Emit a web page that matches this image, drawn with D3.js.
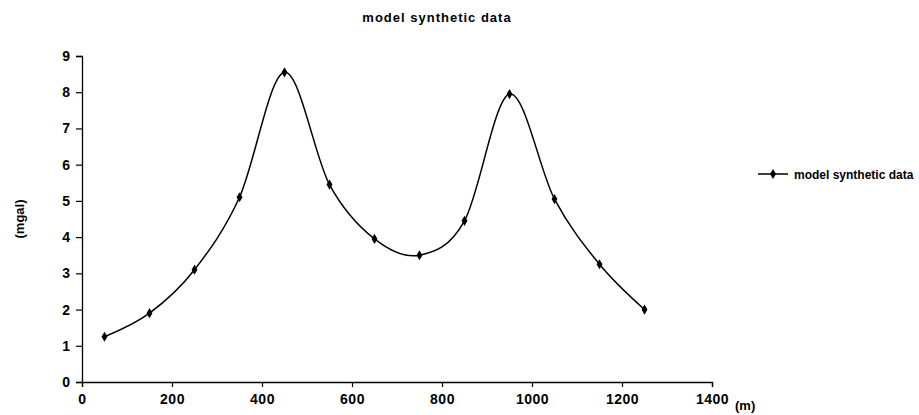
<!DOCTYPE html>
<html>
<head>
<meta charset="utf-8">
<script src="https://cdn.jsdelivr.net/npm/d3@7"></script>
<style>
  html, body { margin: 0; padding: 0; background: #fff; }
  svg text { font-family: "Liberation Sans", Arial, sans-serif; font-weight: bold; fill: #000; }
</style>
</head>
<body>
<svg id="chart" width="919" height="415"></svg>
<script>
// Gravity profile: distance along line (m) and anomaly (mgal)
const distance = [50, 150, 250, 350, 450, 550, 650, 750, 850, 950, 1050, 1150, 1250];
const anomaly  = [1.25, 1.9, 3.1, 5.1, 8.55, 5.45, 3.95, 3.5, 4.45, 7.95, 5.05, 3.25, 2.0];
const xTicks = [0, 200, 400, 600, 800, 1000, 1200, 1400];
const yTicks = [0, 1, 2, 3, 4, 5, 6, 7, 8, 9];
const titleText = "model synthetic data";
const seriesName = "model synthetic data";
const xUnit = "(m)";
const yUnit = "(mgal)";

const svg = d3.select("#chart");
const plot = { left: 82, right: 712, top: 56, bottom: 382 };

const x = d3.scaleLinear().domain([0, 1400]).range([plot.left, plot.right]);
const y = d3.scaleLinear().domain([0, 9]).range([plot.bottom, plot.top]);

// Title
svg.append("text")
  .attr("x", 437).attr("y", 22)
  .attr("text-anchor", "middle")
  .style("font-size", "13px")
  .style("letter-spacing", "1px")
  .text(titleText);

// X axis
const xAxis = svg.append("g")
  .attr("transform", `translate(0,${plot.bottom})`)
  .call(d3.axisBottom(x).tickValues(xTicks).tickSize(5).tickPadding(7).tickFormat(d3.format("d")));
xAxis.selectAll("text").style("font-size", "14px").style("letter-spacing", "0.5px");
xAxis.select(".domain").attr("stroke", "#000").attr("stroke-width", 1.3);
xAxis.selectAll(".tick line").attr("stroke", "#000").attr("stroke-width", 1.2);

// Y axis
const yAxis = svg.append("g")
  .attr("transform", `translate(${plot.left},0)`)
  .call(d3.axisLeft(y).tickValues(yTicks).tickSize(6).tickPadding(6).tickFormat(d3.format("d")));
yAxis.selectAll("text").style("font-size", "14px");
yAxis.select(".domain").attr("stroke", "#000").attr("stroke-width", 1.3);
yAxis.selectAll(".tick line").attr("stroke", "#000").attr("stroke-width", 1.2);

// Axis unit labels
svg.append("text")
  .attr("x", 735).attr("y", 410)
  .style("font-size", "13px")
  .text(xUnit);

svg.append("text")
  .attr("transform", `translate(24,${(plot.top + plot.bottom) / 2}) rotate(-90)`)
  .attr("text-anchor", "middle")
  .style("font-size", "13px")
  .text(yUnit);

// Smoothed data line
const pts = distance.map((d, i) => [d, anomaly[i]]);
const line = d3.line()
  .x(d => x(d[0]))
  .y(d => y(d[1]))
  .curve(d3.curveCardinal.tension(0));

svg.append("path")
  .datum(pts)
  .attr("fill", "none")
  .attr("stroke", "#000")
  .attr("stroke-width", 1.5)
  .attr("d", line);

// Diamond markers
const diamond = d3.symbol().type(d3.symbolDiamond).size(30);
svg.append("g").selectAll("path")
  .data(pts)
  .join("path")
  .attr("transform", d => `translate(${x(d[0])},${y(d[1])})`)
  .attr("d", diamond)
  .attr("fill", "#000");

// Legend
const lg = svg.append("g").attr("transform", "translate(758,174)");
lg.append("line").attr("x1", 0).attr("x2", 30).attr("y1", 0).attr("y2", 0)
  .attr("stroke", "#000").attr("stroke-width", 1.5);
lg.append("path").attr("transform", "translate(15,0)").attr("d", diamond).attr("fill", "#000");
lg.append("text").attr("x", 36).attr("y", 5)
  .style("font-size", "12px")
  .text(seriesName);
</script>
</body>
</html>
